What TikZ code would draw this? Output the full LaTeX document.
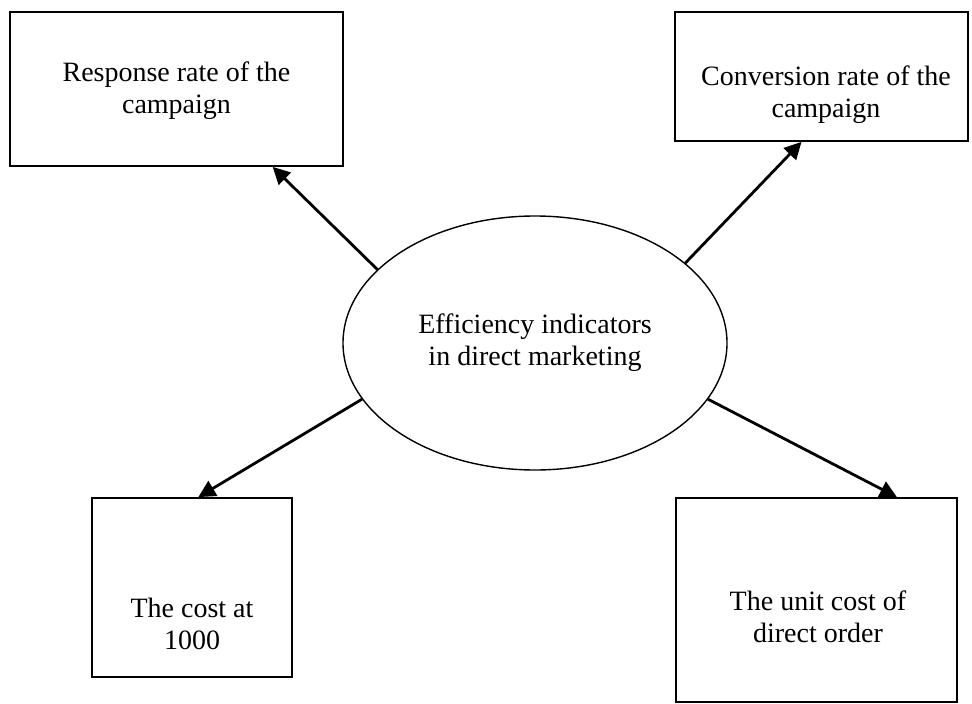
\documentclass[tikz,border=0pt]{standalone}
\usepackage{fontspec}
\setmainfont{Liberation Serif}
\usetikzlibrary{shapes.geometric,arrows.meta}
\tikzset{
  main/.style={ellipse, draw=black, line width=1.4pt, minimum width=384pt, minimum height=254pt, inner sep=0pt, align=center},
  box/.style={rectangle, draw=black, line width=1.8pt, inner sep=0pt},
  boxtext/.style={align=center, inner sep=0pt},
  connect/.style={-{Triangle[length=17pt,width=17pt]}, line width=2.8pt}
}

\begin{document}
\begin{tikzpicture}[x=1pt, y=-1pt, font=\fontsize{28}{32}\selectfont]
	\useasboundingbox (0,0) rectangle (972,704);

	\node[main] (eff) at (535,343) {Efficiency indicators\\in direct marketing};

	\node[box, minimum width=333pt, minimum height=154pt] (resp) at (176.5,89) {};
	\node[box, minimum width=293pt, minimum height=129pt] (conv) at (821.5,76.5) {};
	\node[box, minimum width=200pt, minimum height=179pt] (cost) at (192,587.5) {};
	\node[box, minimum width=281pt, minimum height=204pt] (unit) at (816.5,600) {};

	\node[boxtext] (resptext) at (176.5,91) {Response rate of the\\campaign};
	\node[boxtext] (convtext) at (826,95) {Conversion rate of the\\campaign};
	\node[boxtext] (costtext) at (192,624) {The cost at\\1000};
	\node[boxtext] (unittext) at (818,617) {The unit cost of\\direct order};

	\path (eff.155.7) edge [connect] (resp.-39.5);
	\path (eff.28) edge [connect] (conv.253.2);
	\path (eff.-162) edge [connect] (cost.86.8);
	\path (eff.-18.1) edge [connect] (unit.52.4);
\end{tikzpicture}
\end{document}
